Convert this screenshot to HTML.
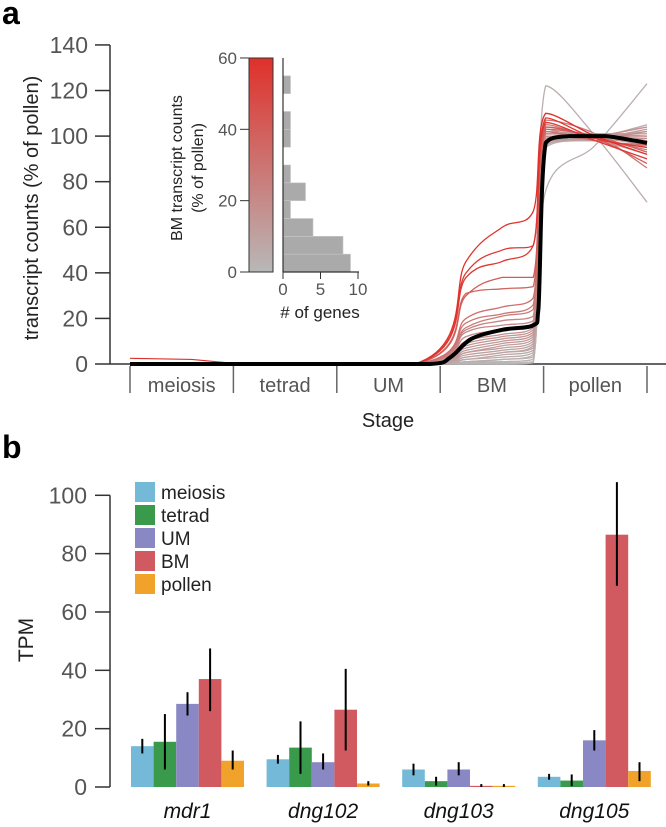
<!DOCTYPE html>
<html><head><meta charset="utf-8"><style>
html,body{margin:0;padding:0;background:#fff;}
svg{display:block;font-family:"Liberation Sans",Arial,sans-serif;}
</style></head><body>
<svg id="fig" width="666" height="827" viewBox="0 0 666 827" xmlns="http://www.w3.org/2000/svg">
<defs><linearGradient id="cb" x1="0" y1="0" x2="0" y2="1"><stop offset="0" stop-color="#e0302a"/><stop offset="1" stop-color="#b8b8b8"/></linearGradient></defs>
<text x="2" y="24" font-size="32" font-weight="bold" fill="#000">a</text>
<text x="2" y="458" font-size="32" font-weight="bold" fill="#000">b</text>
<g id="pa"></g>
<g id="inset"></g>
<g id="pb"></g>
</svg>
<script>
// ---------- Panel a data ----------
const stages = ["meiosis","tetrad","UM","BM","pollen"];
const yTicksA = [0,20,40,60,80,100,120,140];
const meanU = [0,1,2,2.9,3.1,3.3,3.6,3.9,3.95,4.02,4.25,4.6,5];
const meanV = [0,0,0,0,3,11,15,17,24,97,100,100,97];
const geneBmA = [45,40,38,30,31,20,18,16,15,14,12,10,9,8,7,6,5,5,4,3,3,2,2,1,1,1,0.5,0.5,0];
const geneBmB = [60,50,45,38,33,25,22,21,19,17,15,13,12,11,10,9,8,7,6,5,5,4,3,2,2,1,1,0.5,0];
const geneBmC = [67,52,52,38,34,29,26,24,21,19,18,16,15,14,13,12,11,10,9,8,7,6,5,4,3,2,2,1,0.5];
const genePolA = [110,108,106,104,103,102,107,105,104,101,100,103,99,101,98,97,102,96,100,98,99,97,95,122,76,98,96,100,97];
const genePolB = [100,99,98,99,100,98,101,99,100,100,99,98,100,101,99,100,101,99,100,98,101,100,99,100,96,100,99,100,98];
const genePolC = [92,95,90,88,93,96,86,94,100,97,102,99,104,95,103,98,101,96,104,92,100,97,105,71,123,99,93,102,95];
const histCounts = [9,8,4,1,3,1,0,1,1,0,1,0];
const histTicksY = [0,20,40,60];
const histTicksX = [0,5,10];
// ---------- Panel b data ----------
const genesB = ["mdr1","dng102","dng103","dng105"];
const seriesB = ["meiosis","tetrad","UM","BM","pollen"];
const colorsB = ["#74b9d8","#3a9a4c","#8a88c4","#d05a60","#f0a22a"];
const valMeiosis = [14,9.5,6,3.5];
const valTetrad = [15.5,13.5,2,2.2];
const valUM = [28.5,8.5,6,16];
const valBM = [37,26.5,0.4,86.5];
const valPollen = [9,1.2,0.4,5.5];
const errLo = [[11.5,8,4,2.5],[6,4.5,0.5,0.3],[24.5,6,4,12.5],[26,12.5,0,69],[6,0.5,0,2]];
const errHi = [[16.5,11,8,4.5],[25,22.5,3.5,4.3],[32.5,11.5,8.5,19.5],[47.5,40.5,1,104.5],[12.5,2,1,8.5]];
const yTicksB = [0,20,40,60,80,100];

const NS="http://www.w3.org/2000/svg";
function mk(tag,attrs,parent,txt){const e=document.createElementNS(NS,tag);for(const k in attrs)e.setAttribute(k,attrs[k]);if(txt!==undefined)e.textContent=txt;parent.appendChild(e);return e;}
function clamp(v,a,b){return Math.max(Math.min(a,b),Math.min(Math.max(a,b),v));}
function smooth(pts){
  let d='M'+pts[0][0]+','+pts[0][1];
  for(let i=0;i<pts.length-1;i++){
    const p0=pts[Math.max(0,i-1)],p1=pts[i],p2=pts[i+1],p3=pts[Math.min(pts.length-1,i+2)];
    const c1=[p1[0]+(p2[0]-p0[0])/6,clamp(p1[1]+(p2[1]-p0[1])/6,p1[1],p2[1])];
    const c2=[p2[0]-(p3[0]-p1[0])/6,clamp(p2[1]-(p3[1]-p1[1])/6,p1[1],p2[1])];
    d+=' C'+c1[0]+','+c1[1]+' '+c2[0]+','+c2[1]+' '+p2[0]+','+p2[1];
  }
  return d;
}

// ---- Panel a ----
const pa=document.getElementById('pa');
const xA=u=>130+u*103.4;
const yA=v=>364-v*2.279;
let ax=mk('line',{x1:110,y1:yA(140),x2:110,y2:364,stroke:'#333','stroke-width':1.5},pa);


let axx=mk('line',{x1:110,y1:364,x2:666,y2:364,stroke:'#333','stroke-width':1.5},pa);


yTicksA.forEach(t=>{
  mk('line',{x1:95,y1:yA(t),x2:110,y2:yA(t),stroke:'#333','stroke-width':1.5},pa);
  const tl=mk('text',{x:88,y:yA(t)+8,'font-size':23,'text-anchor':'end',fill:'#555'},pa,String(t));
  
  
});
for(let i=0;i<=5;i++){mk('line',{x1:xA(i),y1:366,x2:xA(i),y2:393,stroke:'#666','stroke-width':1.5},pa);}
stages.forEach((s,i)=>{
  const t=mk('text',{x:xA(i+0.5),y:392,'font-size':20,'text-anchor':'middle',fill:'#555'},pa,s);
  
  
});
let st=mk('text',{x:388,y:427,'font-size':20,'text-anchor':'middle',fill:'#222'},pa,'Stage');


let yt=mk('text',{x:0,y:0,'font-size':20,'text-anchor':'middle',fill:'#222',transform:'translate(38,208) rotate(-90)'},pa,'transcript counts (% of pollen)');


function lerp(a,b,t){return Math.round(a+(b-a)*t);}
const order=geneBmC.map((v,i)=>i).sort((a,b)=>geneBmC[a]-geneBmC[b]);
order.forEach(i=>{
  const us=[0,2.75,3.25,3.6,3.9,4.02,4.5,5];
  const vs=[0,0,geneBmA[i],geneBmB[i],geneBmC[i],genePolA[i],genePolB[i],genePolC[i]];
  const t=Math.min(1,geneBmC[i]/55);
  const col=`rgb(${lerp(184,224,t)},${lerp(184,48,t)},${lerp(184,42,t)})`;
  const p=mk('path',{d:smooth(us.map((u,k)=>[xA(u),yA(vs[k])])),fill:'none',stroke:col,'stroke-width':1.3,'stroke-linejoin':'round'},pa);
  
  
});
const rl=mk('polyline',{points:[[0,2.5],[0.6,2],[1,0.3]].map(d=>xA(d[0])+','+yA(d[1])).join(' '),fill:'none',stroke:'#e0302a','stroke-width':1.2},pa);


const ml=mk('path',{d:smooth(meanU.map((u,k)=>[xA(u),yA(meanV[k])])),fill:'none',stroke:'#000','stroke-width':4,'stroke-linejoin':'round'},pa);



// ---- Inset ----
const ins=document.getElementById('inset');
const yI=v=>272-v*3.567;
const xI=c=>283+c*7.5;
const cbar=mk('rect',{x:249,y:58,width:24,height:214,fill:'url(#cb)',stroke:'#333','stroke-width':1},ins);


histTicksY.forEach(t=>{
  mk('line',{x1:240,y1:yI(t),x2:249,y2:yI(t),stroke:'#333','stroke-width':1},ins);
  const tl=mk('text',{x:237,y:yI(t)+6,'font-size':17,'text-anchor':'end',fill:'#555'},ins,String(t));
  
  
});
histCounts.forEach((c,i)=>{
  if(c<=0)return;
  const b=mk('rect',{x:xI(0),y:yI((i+1)*5),width:xI(c)-xI(0),height:yI(i*5)-yI((i+1)*5),fill:'#aaa',stroke:'#c8c8c8','stroke-width':0.6},ins);
  
  
});
mk('line',{x1:283,y1:58,x2:283,y2:272,stroke:'#333','stroke-width':1.2},ins);
mk('line',{x1:283,y1:272,x2:359,y2:272,stroke:'#333','stroke-width':1.2},ins);
histTicksX.forEach(t=>{
  mk('line',{x1:xI(t),y1:272,x2:xI(t),y2:279,stroke:'#333','stroke-width':1},ins);
  const tl=mk('text',{x:xI(t),y:295,'font-size':17,'text-anchor':'middle',fill:'#555'},ins,String(t));
  
  
});
let gx=mk('text',{x:320,y:318,'font-size':17,'text-anchor':'middle',fill:'#222'},ins,'# of genes');


let gy1=mk('text',{x:0,y:0,'font-size':16,'text-anchor':'middle',fill:'#222',transform:'translate(182,168) rotate(-90)'},ins,'BM transcript counts');


let gy2=mk('text',{x:0,y:0,'font-size':16,'text-anchor':'middle',fill:'#222',transform:'translate(203,168) rotate(-90)'},ins,'(% of pollen)');



// ---- Panel b ----
const pb=document.getElementById('pb');
const yB=v=>787-v*2.917;
const vals=[valMeiosis,valTetrad,valUM,valBM,valPollen];
mk('line',{x1:110,y1:yB(100),x2:110,y2:787,stroke:'#333','stroke-width':1.5},pb);
yTicksB.forEach(t=>{
  mk('line',{x1:95,y1:yB(t),x2:110,y2:yB(t),stroke:'#333','stroke-width':1.5},pb);
  const tl=mk('text',{x:87,y:yB(t)+8,'font-size':23,'text-anchor':'end',fill:'#555'},pb,String(t));
  
  
});
let tpm=mk('text',{x:0,y:0,'font-size':21,'text-anchor':'middle',fill:'#222',transform:'translate(33,640) rotate(-90)'},pb,'TPM');


const bw=22.6, g0=131, gs=135.6;
genesB.forEach((g,gi)=>{
  seriesB.forEach((s,si)=>{
    const x=g0+gi*gs+si*bw, v=vals[si][gi];
    const r=mk('rect',{x:x,y:yB(v),width:bw,height:787-yB(v),fill:colorsB[si]},pb);
    
    
    const e=mk('line',{x1:x+bw/2,y1:yB(errHi[si][gi]),x2:x+bw/2,y2:yB(errLo[si][gi]),stroke:'#000','stroke-width':2},pb);
    
    
  });
  const gl=mk('text',{x:g0+gi*gs+bw*2.5,y:818,'font-size':21,'font-style':'italic','text-anchor':'middle',fill:'#111'},pb,g);
  
  
});
seriesB.forEach((s,si)=>{
  const y=482+si*23;
  const sw=mk('rect',{x:135,y:y,width:20,height:20,fill:colorsB[si]},pb);
  
  
  const lt=mk('text',{x:161,y:y+17,'font-size':19,fill:'#222'},pb,s);
  
  
});
</script>
</body></html>
